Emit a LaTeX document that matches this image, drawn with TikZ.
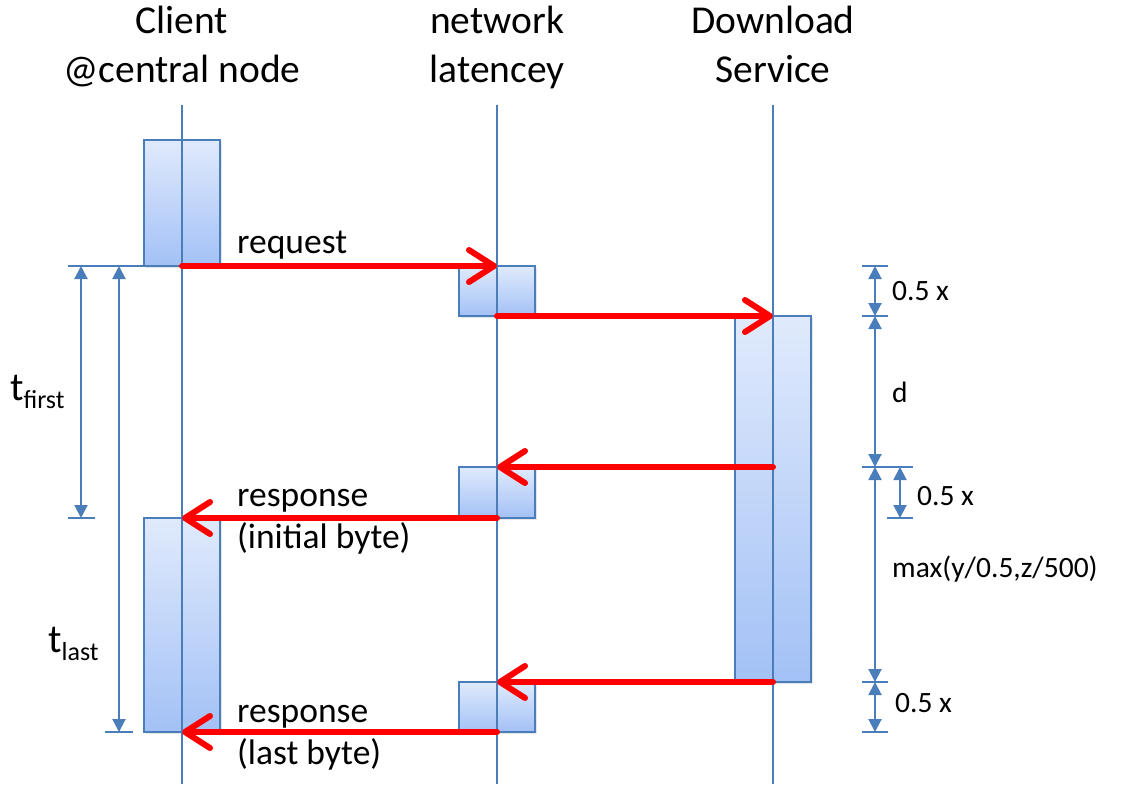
\documentclass[tikz,border=0pt]{standalone}
\usepackage{fontspec}
\setmainfont{Carlito}
\usetikzlibrary{arrows.meta,shadows}
\definecolor{linblue}{HTML}{4A7EBB}
\definecolor{boxtop}{HTML}{E0EAFC}
\definecolor{boxbot}{HTML}{A3C1F6}
\tikzset{
	act/.style={draw=linblue,line width=1.8pt,top color=boxtop,bottom color=boxbot,minimum width=76pt,inner sep=0pt,outer sep=0pt,anchor=north,drop shadow={opacity=0.2,shadow xshift=2pt,shadow yshift=-2pt}},
	lifeline/.style={draw=linblue,line width=1.5pt},
	msg/.style={red,line width=6pt,line cap=round,-{Straight Barb[length=25pt,width=32pt,round]}},
	dim/.style={linblue,line width=2pt,{Triangle[length=13pt,width=13pt]}-{Triangle[length=13pt,width=13pt]}},
	dimtick/.style={linblue,line width=2pt},
	head/.style={font=\fontsize{39.5}{49}\selectfont,align=center,anchor=base,inner sep=0pt},
	lbl/.style={font=\fontsize{35.5}{42}\selectfont,align=left,anchor=base west,inner sep=0pt},
	dlbl/.style={font=\fontsize{29.5}{34}\selectfont,anchor=base west,inner sep=0pt}
}
\begin{document}
\begin{tikzpicture}[x=1pt,y=-1pt]
		\useasboundingbox (0,0) rectangle (1126,784);
		\node[head] (client) at (182,82) {Client\\@central node};
		\node[head] (net) at (497,82) {network\\latencey};
		\node[head] (dl) at (773,82) {Download\\Service};
		\node[act,minimum height=126pt] (cb1) at (182,140) {};
		\node[act,minimum height=50pt] (nb1) at (497,266) {};
		\node[act,minimum height=366pt] (db) at (773,316) {};
		\node[act,minimum height=51pt] (nb2) at (497,467) {};
		\node[act,minimum height=214pt] (cb2) at (182,518) {};
		\node[act,minimum height=50pt] (nb3) at (497,682) {};
		\foreach \n in {client,net,dl}
			\draw[lifeline] (\n |- 0,105) -- (\n |- 0,784);
		\draw[dimtick] (68,266) -- (cb1.south west);
		\draw[dimtick] (68,518) -- (95,518);
		\draw[dimtick] (105,732) -- (133,732);
		\draw[dim] (81,266) -- (81,518);
		\draw[dim] (119,266) -- (119,732);
		\node[anchor=base west,inner sep=0pt] (tfirst) at (10,400) {\fontsize{40}{40}\selectfont t\raisebox{-8pt}{\fontsize{26}{26}\selectfont first}};
		\node[anchor=base west,inner sep=0pt] (tlast) at (48,652) {\fontsize{40}{40}\selectfont t\raisebox{-8pt}{\fontsize{26}{26}\selectfont last}};
		\foreach \y in {266,316,682,732}
			\draw[dimtick] (862,\y) -- (888,\y);
		\draw[dimtick] (862,467) -- (913,467);
		\draw[dimtick] (887,518) -- (913,518);
		\draw[dim] (875,266) -- (875,316);
		\draw[dim] (875,316) -- (875,467);
		\draw[dim] (875,467) -- (875,682);
		\draw[dim] (875,682) -- (875,732);
		\draw[dim] (900,467) -- (900,518);
		\node[dlbl] (x1) at (892,300) {0.5 x};
		\node[dlbl] (d) at (892,402) {d};
		\node[dlbl] (x2) at (917,505) {0.5 x};
		\node[dlbl] (mx) at (892,577) {max(y/0.5,z/500)};
		\node[dlbl] (x3) at (895,712) {0.5 x};
		\draw[msg] (cb1.south) -- (nb1.north);
		\draw[msg] (nb1.south) -- (db.north);
		\draw[msg] (db.north |- nb2.north) -- (nb2.north);
		\draw[msg] (nb2.south) -- (cb2.north);
		\draw[msg] (db.south) -- (nb3.north);
		\draw[msg] (nb3.south) -- (cb2.south);
		\node[lbl] (req) at (237,253) {request};
		\node[lbl] (resp1) at (237,548) {response\\(initial byte)};
		\node[lbl] (resp2) at (237,764) {response\\(last byte)};
	\end{tikzpicture}
\end{document}
